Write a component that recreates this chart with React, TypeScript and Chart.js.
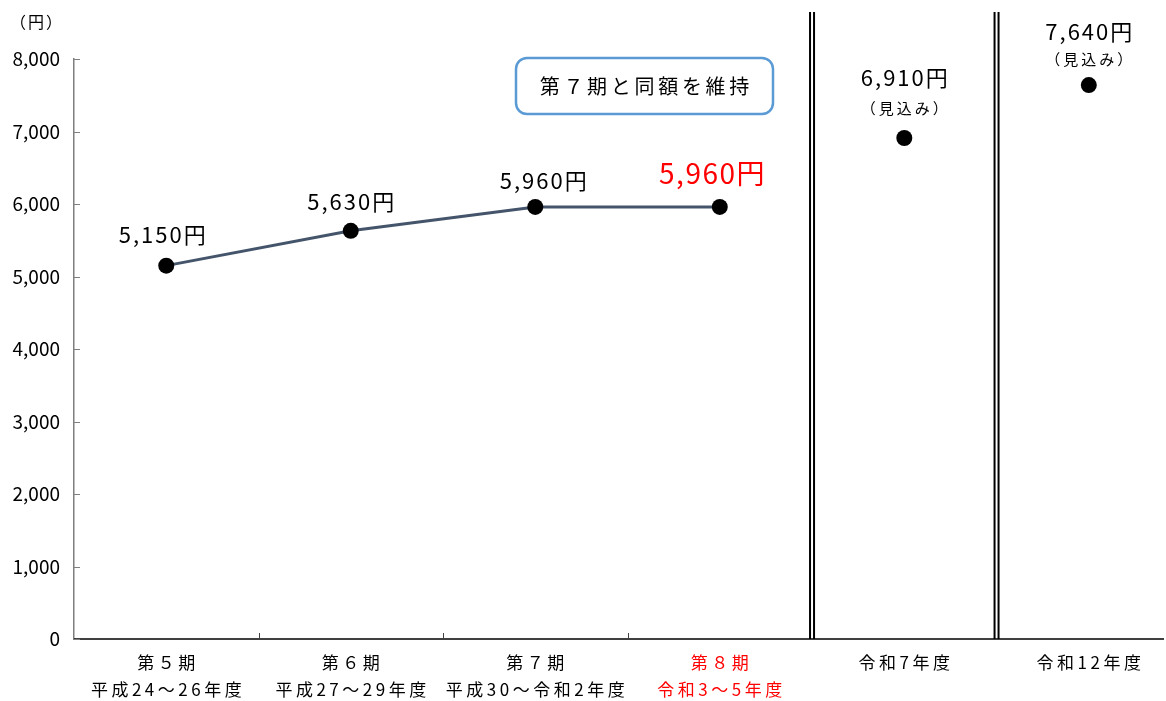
import React, { useEffect, useRef } from "react";
import { Chart, registerables } from "chart.js";

Chart.register(...registerables);

const periodLabels: string[][] = [
  ["第５期", "平成24～26年度"],
  ["第６期", "平成27～29年度"],
  ["第７期", "平成30～令和2年度"],
  ["第８期", "令和3～5年度"],
  ["令和7年度"],
  ["令和12年度"],
];
const premiumValues: number[] = [5150, 5630, 5960, 5960, 6910, 7640];
const valueLabels: string[] = ["5,150円", "5,630円", "5,960円", "5,960円", "6,910円", "7,640円"];
const estimateNote = "（見込み）";
const boxText = "第７期と同額を維持";
const yUnit = "（円）";
const yTicks: number[] = [0, 1000, 2000, 3000, 4000, 5000, 6000, 7000, 8000];

const FONT = '"Noto Sans CJK JP", "Noto Sans", sans-serif';

function spacedText(ctx: any, text: string, x: number, y: number, spacing: number) {
  ctx.letterSpacing = `${spacing}px`;
  ctx.fillText(text, x + spacing / 2, y);
  ctx.letterSpacing = "0px";
}

const overlayPlugin = {
  id: "overlay",
  afterDatasetsDraw(chart: any) {
    const { ctx, chartArea, scales } = chart;
    const xs = scales.x;
    const ys = scales.y;
    ctx.save();
    // x axis line across to the right edge
    ctx.strokeStyle = "#000";
    ctx.lineWidth = 1.5;
    ctx.beginPath();
    ctx.moveTo(chartArea.left, chartArea.bottom);
    ctx.lineTo(1164, chartArea.bottom);
    ctx.stroke();
    ctx.strokeStyle = "#7f7f7f";
    ctx.lineWidth = 1;
    yTicks.forEach((v) => {
      const py = Math.round(ys.getPixelForValue(v)) + 0.5;
      ctx.beginPath();
      ctx.moveTo(chartArea.left, py);
      ctx.lineTo(chartArea.left + 6, py);
      ctx.stroke();
    });
    ctx.strokeStyle = "#404040";
    [0.5, 1.5, 2.5].forEach((b) => {
      const px = Math.round(xs.getPixelForValue(b)) + 0.5;
      ctx.beginPath();
      ctx.moveTo(px, chartArea.bottom);
      ctx.lineTo(px, chartArea.bottom - 6);
      ctx.stroke();
    });
    ctx.strokeStyle = "#000";
    ctx.lineWidth = 2;
    [3.5, 4.5].forEach((b) => {
      const px = xs.getPixelForValue(b);
      [-2, 2].forEach((d) => {
        ctx.beginPath();
        ctx.moveTo(px + d, 12);
        ctx.lineTo(px + d, chartArea.bottom);
        ctx.stroke();
      });
    });
    ctx.textAlign = "center";
    ctx.textBaseline = "middle";
    ctx.fillStyle = "#000";
    ctx.font = `16px ${FONT}`;
    spacedText(ctx, yUnit, 36, 22, 2);
    periodLabels.forEach((lines, i) => {
      const px = xs.getPixelForValue(i);
      ctx.fillStyle = i === 3 ? "#ff0000" : "#000";
      ctx.font = `17px ${FONT}`;
      lines.forEach((t, j) => {
        spacedText(ctx, t, px, chartArea.bottom + 24 + j * 27, 3.5);
      });
    });
    const offsets = [-31, -29, -26, -34, -60, -53];
    premiumValues.forEach((v, i) => {
      const px = xs.getPixelForValue(i);
      const py = ys.getPixelForValue(v);
      const red = i === 3;
      ctx.fillStyle = red ? "#ff0000" : "#000";
      ctx.font = red ? `28px ${FONT}` : `22px ${FONT}`;
      const dx = i === 2 ? 8 : i === 3 ? -8 : i === 0 ? -4 : 0;
      spacedText(ctx, valueLabels[i], px + dx, py + offsets[i], red ? 1.5 : 2);
      if (i >= 4) {
        ctx.font = `15px ${FONT}`;
        ctx.fillStyle = "#000";
        spacedText(ctx, estimateNote, px, py + (i === 4 ? -30 : -26), 3);
      }
    });
    const bx = 516, by = 58, bw = 257, bh = 56, r = 11;
    ctx.beginPath();
    ctx.roundRect(bx, by, bw, bh, r);
    ctx.fillStyle = "#fff";
    ctx.fill();
    ctx.strokeStyle = "#5b9bd5";
    ctx.lineWidth = 2.5;
    ctx.stroke();
    ctx.fillStyle = "#000";
    ctx.font = `20px ${FONT}`;
    spacedText(ctx, boxText, bx + bw / 2, by + bh / 2, 3.7);
    ctx.restore();
  },
};

export default function App() {
  const ref = useRef<HTMLCanvasElement | null>(null);
  useEffect(() => {
    document.body.style.margin = "0";
    const canvas = ref.current!;
    const chart = new Chart(canvas, {
      type: "line",
      data: {
        datasets: [
          {
            data: premiumValues.map((v, i) => ({ x: i, y: v })),
            borderColor: "#44546a",
            borderWidth: 3,
            pointRadius: 8,
            pointBackgroundColor: "#000",
            pointBorderColor: "#000",
            pointBorderWidth: 0,
            segment: {
              borderColor: (c: any) => (c.p0DataIndex >= 3 ? "transparent" : "#44546a"),
            },
          },
        ],
      },
      options: {
        animation: false,
        responsive: false,
        maintainAspectRatio: false,
        layout: { padding: { top: 59, right: 2, left: 0, bottom: 0 } },
        plugins: { legend: { display: false }, tooltip: { enabled: false } },
        scales: {
          x: {
            type: "linear",
            min: -0.5,
            max: 5.375,
            grid: { display: false, drawTicks: false },
            border: { display: false },
            afterFit: (s: any) => {
              s.height = 62;
            },
            ticks: { display: false },
          },
          y: {
            min: 0,
            max: 8000,
            grid: { display: false, drawTicks: false },
            border: { display: true, color: "#7f7f7f", width: 1.5 },
            afterBuildTicks: (s: any) => {
              s.ticks = yTicks.map((v) => ({ value: v }));
            },
            afterFit: (s: any) => {
              s.width = 74;
            },
            ticks: {
              padding: 14,
              color: "#000",
              font: { family: FONT, size: 19 },
              callback: (v: any) => Number(v).toLocaleString("en-US"),
            },
          },
        },
      },
      plugins: [overlayPlugin],
    });
    return () => chart.destroy();
  }, []);
  return (
    <div style={{ width: 1166, height: 701 }}>
      <canvas ref={ref} width={1166} height={701} style={{ display: "block" }} />
    </div>
  );
}
